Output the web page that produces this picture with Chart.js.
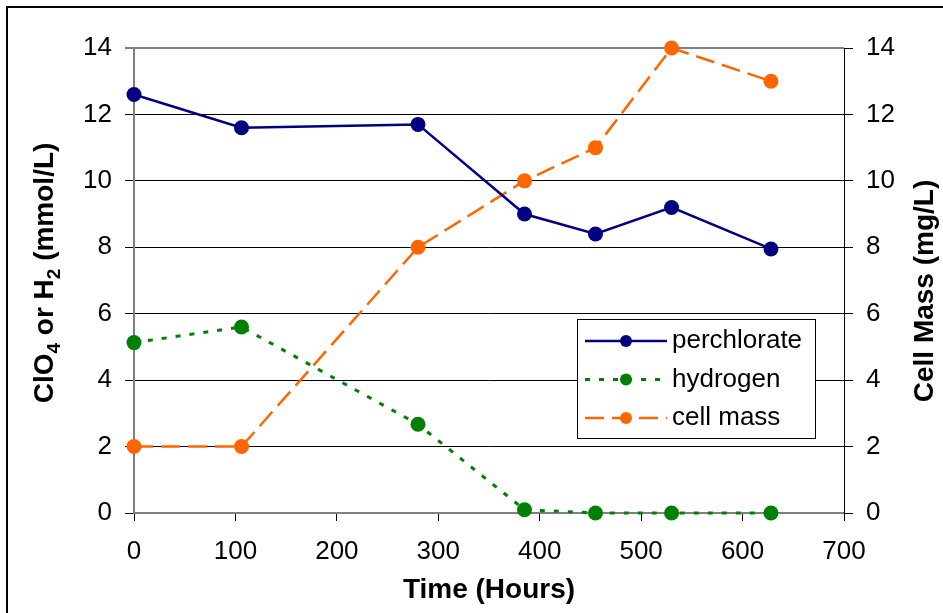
<!DOCTYPE html>
<html>
<head>
<meta charset="utf-8">
<script src="https://cdn.jsdelivr.net/npm/chart.js@4/dist/chart.umd.min.js"></script>
<style>
  html, body { margin: 0; padding: 0; background: #fff; }
  canvas { display: block; }
</style>
</head>
<body>
<canvas id="perchlorateChart" width="943" height="613"></canvas>
<script>
// sampling times in hours
const hours = [0, 106, 280, 385, 455, 530, 628];
// ClO4 and H2, mmol/L (left axis)
const perchlorate = [12.6, 11.6, 11.7, 9.0, 8.4, 9.2, 7.95];
const hydrogen = [5.13, 5.6, 2.67, 0.1, 0, 0, 0];
// cell mass, mg/L (right axis)
const cellMass = [2, 2, 8, 10, 11, 14, 13];

const xTicks = [0, 100, 200, 300, 400, 500, 600, 700];
const yTicks = [0, 2, 4, 6, 8, 10, 12, 14];

const FONT = "'Liberation Sans', Arial, sans-serif";

const pairs = ys => hours.map((h, i) => ({ x: h, y: ys[i] }));
const fixTicks = list => scale => { scale.ticks = list.map(v => ({ value: v })); };

// frame, rotated axis titles (with subscripts) and the boxed legend
const extras = {
  id: 'extras',
  beforeDraw(chart) {
    const c = chart.ctx;
    c.save();
    c.fillStyle = '#fff';
    c.fillRect(0, 0, chart.width, chart.height);
    c.strokeStyle = '#000';
    c.lineWidth = 2;
    c.strokeRect(7, 7, 1200, 1200);
    c.restore();
  },
  afterDatasetsDraw(chart) {
    const c = chart.ctx;
    c.save();
    c.fillStyle = '#000';
    c.textBaseline = 'alphabetic';

    // left title: ClO4 or H2 (mmol/L)
    const parts = [
      ['ClO', false], ['4', true], [' or H', false], ['2', true], [' (mmol/L)', false]
    ];
    const big = 'bold 28px ' + FONT, small = 'bold 19px ' + FONT;
    let total = 0;
    parts.forEach(([t, sub]) => { c.font = sub ? small : big; total += c.measureText(t).width; });
    c.save();
    c.translate(53, 273);
    c.rotate(-Math.PI / 2);
    let px = -total / 2;
    parts.forEach(([t, sub]) => {
      c.font = sub ? small : big;
      c.fillText(t, px, sub ? 7 : 0);
      px += c.measureText(t).width;
    });
    c.restore();

    // right title
    c.save();
    c.font = big;
    c.textAlign = 'center';
    c.translate(933, 291);
    c.rotate(-Math.PI / 2);
    c.fillText('Cell Mass (mg/L)', 0, 0);
    c.restore();

    // legend box
    const bx = 577, by = 319, bw = 238, bh = 119;
    c.fillStyle = '#fff';
    c.fillRect(bx, by, bw, bh);
    c.strokeStyle = '#000';
    c.lineWidth = 1;
    c.strokeRect(bx + 0.5, by + 0.5, bw, bh);
    chart.data.datasets.forEach((ds, i) => {
      const y = 341 + i * 38.5;
      c.strokeStyle = ds.borderColor;
      c.lineWidth = ds.borderWidth;
      c.setLineDash(ds.borderDash || []);
      c.beginPath();
      c.moveTo(585, y);
      c.lineTo(667, y);
      c.stroke();
      c.setLineDash([]);
      c.fillStyle = ds.pointBackgroundColor;
      c.beginPath();
      c.arc(626, y, 6, 0, Math.PI * 2);
      c.fill();
      c.fillStyle = '#000';
      c.font = '26px ' + FONT;
      c.textBaseline = 'middle';
      c.fillText(ds.label, 672, y);
    });
    c.restore();
  }
};

new Chart(document.getElementById('perchlorateChart'), {
  type: 'line',
  data: {
    datasets: [{
      label: 'perchlorate',
      data: pairs(perchlorate),
      yAxisID: 'y',
      borderColor: '#000080',
      backgroundColor: '#000080',
      pointBackgroundColor: '#000080',
      borderWidth: 2.5,
      pointRadius: 7.5,
      pointBorderWidth: 0,
      clip: false
    }, {
      label: 'hydrogen',
      data: pairs(hydrogen),
      yAxisID: 'y',
      borderColor: '#008000',
      backgroundColor: '#008000',
      pointBackgroundColor: '#008000',
      borderWidth: 3,
      borderDash: [5, 9],
      pointRadius: 7.5,
      pointBorderWidth: 0,
      clip: false
    }, {
      label: 'cell mass',
      data: pairs(cellMass),
      yAxisID: 'y2',
      borderColor: '#FF6600',
      backgroundColor: '#FF6600',
      pointBackgroundColor: '#FF6600',
      borderWidth: 2.5,
      borderDash: [19, 8],
      pointRadius: 7.5,
      pointBorderWidth: 0,
      clip: false
    }]
  },
  options: {
    responsive: false,
    animation: false,
    devicePixelRatio: 1,
    layout: { padding: { top: 48, left: 0, right: 0, bottom: 0 } },
    plugins: { legend: { display: false }, tooltip: { enabled: false } },
    scales: {
      x: {
        type: 'linear',
        min: 0, max: 700,
        afterBuildTicks: fixTicks(xTicks),
        afterFit: s => { s.height = 100; },
        grid: { drawOnChartArea: false, tickLength: 8, tickColor: '#000', tickWidth: 1 },
        border: { color: '#808080', width: 2 },
        ticks: { color: '#000', padding: 15, font: { family: FONT, size: 26 } },
        title: {
          display: true, text: 'Time (Hours)', color: '#000',
          font: { family: FONT, size: 28, weight: 'bold' },
          padding: { top: 0, bottom: 6 }
        }
      },
      y: {
        position: 'left',
        min: 0, max: 14,
        afterBuildTicks: fixTicks(yTicks),
        afterFit: s => { s.width = 134; },
        grid: {
          color: ctx => ctx.tick.value === 14 ? '#808080' : (ctx.tick.value === 0 ? 'rgba(0,0,0,0)' : '#000'),
          lineWidth: ctx => ctx.tick.value === 14 ? 2 : 1,
          tickLength: 9, tickColor: '#000', tickWidth: 1
        },
        border: { color: '#808080', width: 2 },
        ticks: { color: '#000', padding: 13, font: { family: FONT, size: 26 } }
      },
      y2: {
        position: 'right',
        min: 0, max: 14,
        afterBuildTicks: fixTicks(yTicks),
        afterFit: s => { s.width = 99; },
        grid: { drawOnChartArea: false, tickLength: 9, tickColor: '#000', tickWidth: 1 },
        border: { color: '#000', width: 1 },
        ticks: { color: '#000', padding: 13, font: { family: FONT, size: 26 } }
      }
    }
  },
  plugins: [extras]
});
</script>
</body>
</html>
